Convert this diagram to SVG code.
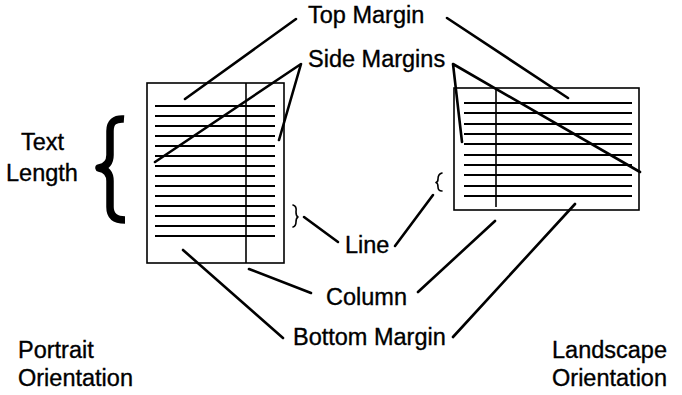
<svg xmlns="http://www.w3.org/2000/svg" width="682" height="395" viewBox="0 0 682 395">
<style>
.lbl{font-family:"Liberation Sans",Arial,sans-serif;font-size:23.5px;fill:#000;stroke:#000;stroke-width:0.35}
.page{fill:none;stroke:#000;stroke-width:1.6}
.rule{stroke:#000;stroke-width:1.9}
.lead{stroke:#000;stroke-width:2.6;fill:none;stroke-linecap:round;stroke-linejoin:round}
</style>
<rect width="682" height="395" fill="#fff"/>
<g id="portrait">
<rect class="page" x="147" y="83" width="137" height="180"/>
<line class="page" x1="246" y1="83" x2="246" y2="263"/>
<g class="rule">
<line x1="155" y1="106" x2="275" y2="106"/><line x1="155" y1="116" x2="275" y2="116"/>
<line x1="155" y1="126" x2="275" y2="126"/><line x1="155" y1="136" x2="275" y2="136"/>
<line x1="155" y1="146" x2="275" y2="146"/><line x1="155" y1="156" x2="275" y2="156"/>
<line x1="155" y1="166" x2="275" y2="166"/><line x1="155" y1="176" x2="275" y2="176"/>
<line x1="155" y1="186" x2="275" y2="186"/><line x1="155" y1="196" x2="275" y2="196"/>
<line x1="155" y1="206" x2="275" y2="206"/><line x1="155" y1="216" x2="275" y2="216"/>
<line x1="155" y1="226" x2="275" y2="226"/><line x1="155" y1="236" x2="275" y2="236"/>
</g>
</g>
<g id="landscape">
<rect class="page" x="454" y="88" width="185" height="122"/>
<line class="page" x1="496" y1="88" x2="496" y2="207"/>
<g class="rule">
<line x1="464" y1="103" x2="632" y2="103"/><line x1="464" y1="113" x2="632" y2="113"/>
<line x1="464" y1="124" x2="632" y2="124"/><line x1="464" y1="134" x2="632" y2="134"/>
<line x1="464" y1="144" x2="632" y2="144"/><line x1="464" y1="155" x2="632" y2="155"/>
<line x1="464" y1="165" x2="632" y2="165"/><line x1="464" y1="175" x2="632" y2="175"/>
<line x1="464" y1="186" x2="632" y2="186"/><line x1="464" y1="196" x2="632" y2="196"/>
</g>
</g>
<g id="text-length">
<path d="M124 119 Q110 118 110 131 L110 155 Q110 166 99 168 Q110 170 110 181 L110 207 Q110 220 125 220" fill="none" stroke="#000" stroke-width="7.5" stroke-linejoin="round"/>
<text class="lbl" x="42.5" y="150" text-anchor="middle">Text</text>
<text class="lbl" x="42" y="181" text-anchor="middle">Length</text>
</g>
<g id="labels">
<text id="top-margin" class="lbl" x="308" y="23">Top Margin</text>
<text id="side-margins" class="lbl" x="308" y="67">Side Margins</text>
<text id="line" class="lbl" x="345" y="253">Line</text>
<text id="column" class="lbl" x="326" y="305">Column</text>
<text id="bottom-margin" class="lbl" x="293" y="345">Bottom Margin</text>
<text class="lbl" x="18" y="358">Portrait</text>
<text class="lbl" x="18" y="386">Orientation</text>
<text class="lbl" x="667" y="358" text-anchor="end">Landscape</text>
<text class="lbl" x="667" y="386" text-anchor="end">Orientation</text>
</g>
<g id="connectors" class="lead">
<line x1="185" y1="99" x2="296" y2="19"/>
<line x1="447" y1="18" x2="568" y2="98"/>
<polyline points="155,162 301,64 279,140"/>
<polyline points="462,142 453,64 640,172"/>
<path d="M293 205 Q297 206 296 212 Q296 216 298 217 Q296 218 296 222 Q296 226 293 227" stroke-width="1.6"/>
<line x1="304" y1="217" x2="338" y2="242"/>
<path d="M442 173 Q438 174 438 179 Q438 182 436 182.5 Q438 183 438 187 Q438 191 442 191" stroke-width="1.6"/>
<line x1="395" y1="246" x2="433" y2="195"/>
<line x1="249" y1="269" x2="311" y2="293"/>
<line x1="418" y1="292" x2="495" y2="221"/>
<line x1="183" y1="250" x2="283" y2="338"/>
<line x1="453" y1="337" x2="575" y2="204"/>
</g>
</svg>
